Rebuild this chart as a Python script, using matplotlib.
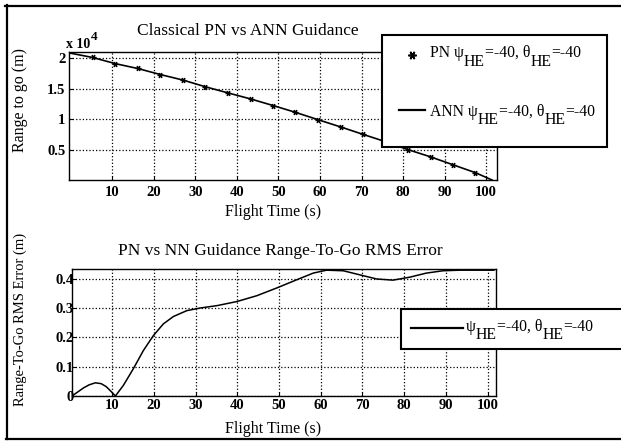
import matplotlib
matplotlib.use("Agg")
import matplotlib.pyplot as plt
from matplotlib.lines import Line2D
from matplotlib.patches import Rectangle
import numpy as np

W, H = 621, 441
SERIF = "Liberation Serif"

# top panel: range to go (m)
pn_time = [5.3, 10.7, 16.1, 21.6, 27.0, 32.4, 37.8, 43.3, 48.8, 54.1,
           59.5, 65.0, 70.3, 75.7, 81.1, 86.6, 92.0, 97.4]
pn_range = [20100, 19100, 18300, 17300, 16400, 15300, 14300, 13300, 12200, 11100,
            9900, 8700, 7500, 6300, 5000, 3800, 2500, 1200]
ann_time = [0.0, 5.3, 10.7, 16.1, 21.6, 27.0, 32.4, 37.8, 43.3, 48.8, 54.1,
            59.5, 65.0, 70.3, 75.7, 81.1, 86.6, 92.0, 97.4, 101.4]
ann_range = [20800, 20100, 19100, 18300, 17300, 16400, 15300, 14300, 13300, 12200, 11100,
             9900, 8700, 7500, 6300, 5000, 3800, 2500, 1200, 0]

# bottom panel: RMS error
err_time = [0.4, 2.0, 3.2, 4.5, 6.0, 7.4, 8.6, 9.8, 10.8, 12.7, 15.1, 17.5, 19.9,
            22.3, 24.7, 27.9, 31.1, 35.1, 39.9, 44.7, 49.4, 54.2, 58.2, 61.4, 65.4,
            69.4, 73.4, 77.3, 81.3, 85.3, 89.3, 93.3, 101.5]
err_rms = [0.0, 0.016, 0.028, 0.038, 0.045, 0.042, 0.032, 0.015, 0.0, 0.036, 0.093,
           0.155, 0.206, 0.246, 0.271, 0.291, 0.300, 0.308, 0.322, 0.342, 0.368, 0.396,
           0.419, 0.429, 0.427, 0.413, 0.399, 0.395, 0.405, 0.419, 0.427, 0.429, 0.429]

top_xticks = [10, 20, 30, 40, 50, 60, 70, 80, 90, 100]
top_yticks = [5000, 10000, 15000, 20000]
top_ylabels = ["0.5", "1", "1.5", "2"]
bot_yticks = [0, 0.1, 0.2, 0.3, 0.4]
bot_ylabels = ["0", "0.1", "0.2", "0.3", "0.4"]


def px_axes(l, t, r, b):
    return [l / W, 1 - b / H, (r - l) / W, (b - t) / H]


def style_axes(ax, xpad, ypad):
    ax.grid(True, color="black", linestyle=":", linewidth=0.9)
    ax.tick_params(direction="in", length=3, width=0.8, labelsize=10.5)
    ax.tick_params(axis="x", pad=xpad)
    ax.tick_params(axis="y", pad=ypad)
    for lab in ax.get_xticklabels() + ax.get_yticklabels():
        lab.set_fontweight("bold")
        lab.set_fontfamily(SERIF)
    for s in ax.spines.values():
        s.set_linewidth(1.0)


def ftext(x, y, s, **kw):
    kw.setdefault("family", SERIF)
    return fig.text(x / W, 1 - y / H, s, **kw)


def rich(x, y, parts, size=11.3):
    # pieces of text, some dropped down like MATLAB subscripts
    r = fig.canvas.get_renderer()
    for s, dy in parts:
        t = ftext(x, y + dy, s, fontsize=size, va="baseline", zorder=12)
        x += t.get_window_extent(r).width


fig = plt.figure(figsize=(W / 100, H / 100), dpi=100)

# ---- top panel
ax1 = fig.add_axes(px_axes(69, 52, 497, 180))
ax1.plot(ann_time, ann_range, color="black", linewidth=1.2)
ax1.plot(pn_time, pn_range, linestyle="none", marker=(6, 2, 90), markersize=4,
         markeredgewidth=0.9, color="black")
ax1.set_xlim(-0.4, 102.6)
ax1.set_ylim(0, 21000)
ax1.set_xticks(top_xticks)
ax1.set_yticks(top_yticks)
ax1.set_yticklabels(top_ylabels)
style_axes(ax1, 4, 2.5)

ftext(248, 35, "Classical PN vs ANN Guidance", fontsize=12.5, ha="center", va="baseline")
ftext(273, 216, "Flight Time (s)", fontsize=11.5, ha="center", va="baseline")
ftext(20, 100, "Range to go (m)", fontsize=11.5, ha="center", va="center", rotation=90)
ftext(66, 48, "x 10", fontsize=10, fontweight="bold", va="baseline")
ftext(91, 40, "4", fontsize=9.5, fontweight="bold", va="baseline")

# ---- bottom panel
ax2 = fig.add_axes(px_axes(72, 269, 496, 396))
ax2.plot(err_time, err_rms, color="black", linewidth=1.1)
ax2.set_xlim(0.4, 102.0)
ax2.set_ylim(0, 0.433)
ax2.set_xticks(top_xticks)
ax2.set_yticks(bot_yticks)
ax2.set_yticklabels(bot_ylabels)
style_axes(ax2, 2, -1.5)

ftext(280, 255, "PN vs NN Guidance Range-To-Go RMS Error", fontsize=12.5, ha="center", va="baseline")
ftext(273, 433, "Flight Time (s)", fontsize=11.5, ha="center", va="baseline")
ftext(20, 319, "Range-To-Go RMS Error (m)", fontsize=10.5, ha="center", va="center", rotation=90)

# ---- legends (drawn as boxes on the figure)
fig.add_artist(Rectangle((382 / W, 1 - 147 / H), 225 / W, 112 / H, transform=fig.transFigure,
                         facecolor="white", edgecolor="black", linewidth=1.5, zorder=10))
fig.add_artist(Line2D([412 / W], [1 - 55 / H], transform=fig.transFigure, marker=(6, 2, 90),
                      markersize=6, markeredgewidth=1.2, color="black", zorder=11))
fig.add_artist(Line2D([399 / W, 425 / W], [1 - 110 / H] * 2, transform=fig.transFigure,
                      color="black", linewidth=1.6, zorder=11))
rich(430, 57, [("PN ψ", 0), ("HE", 9), ("=-40, θ", 0), ("HE", 9), ("=-40", 0)])
rich(430, 116, [("ANN ψ", 0), ("HE", 8.5), ("=-40, θ", 0), ("HE", 8.5), ("=-40", 0)])

fig.add_artist(Rectangle((401 / W, 1 - 349 / H), 230 / W, 40 / H, transform=fig.transFigure,
                         facecolor="white", edgecolor="black", linewidth=1.5, zorder=10))
fig.add_artist(Line2D([411 / W, 463 / W], [1 - 328 / H] * 2, transform=fig.transFigure,
                      color="black", linewidth=1.6, zorder=11))
rich(466, 331, [("ψ", 0), ("HE", 8), ("=-40, θ", 0), ("HE", 8), ("=-40", 0)])

# ---- outer frame
for xs, ys in [([5, 621], [5.5, 5.5]), ([6.5, 6.5], [5, 439]), ([6, 621], [439, 439])]:
    fig.add_artist(Line2D([v / W for v in xs], [1 - v / H for v in ys],
                          transform=fig.transFigure, color="black", linewidth=1.6))

fig.savefig("out.png", dpi=100)
